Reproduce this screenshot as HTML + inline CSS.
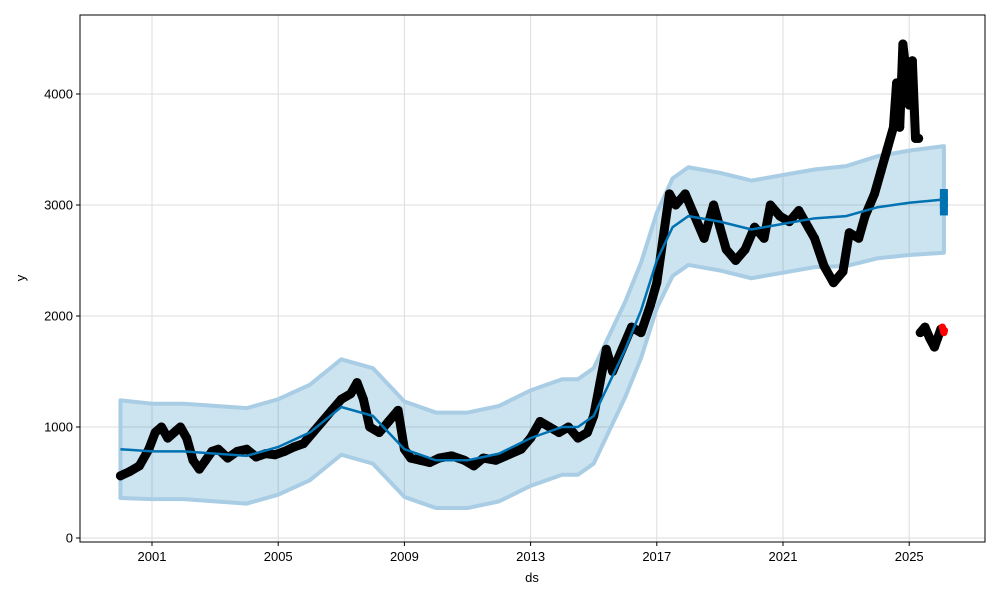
<!DOCTYPE html>
<html><head><meta charset="utf-8"><style>
body{margin:0;background:#fff;font-family:"Liberation Sans","DejaVu Sans",sans-serif;}
svg{display:block}
</style></head><body>
<svg id="chart" width="1000" height="600">
<rect x="0" y="0" width="1000" height="600" fill="#fff"/>
<g id="grid"></g>
<g id="band"></g>
<g id="obs"></g>
<g id="trend"></g>
<g id="axes"></g>
<rect x="80" y="15" width="905" height="527" fill="none" stroke="#000" stroke-width="1"/>
<text x="532" y="582" font-size="13" text-anchor="middle">ds</text>
<text x="25" y="278" font-size="13" text-anchor="middle" transform="rotate(-90 25 278)">y</text>
</svg>
<script>
const xTicks=[2001,2005,2009,2013,2017,2021,2025];
const yTicks=[0,1000,2000,3000,4000];
const obsYears=[2000.0,2000.3,2000.6,2000.9,2001.1,2001.3,2001.5,2001.7,2001.9,2002.1,2002.3,2002.5,2002.7,2002.9,2003.1,2003.4,2003.7,2004.0,2004.3,2004.6,2004.9,2005.2,2005.5,2005.8,2006.1,2006.4,2006.7,2007.0,2007.3,2007.5,2007.7,2007.9,2008.2,2008.5,2008.8,2009.0,2009.2,2009.5,2009.8,2010.1,2010.5,2010.9,2011.2,2011.5,2011.9,2012.3,2012.7,2013.0,2013.3,2013.6,2013.9,2014.2,2014.5,2014.8,2015.0,2015.2,2015.4,2015.6,2015.9,2016.2,2016.5,2016.8,2017.0,2017.2,2017.4,2017.6,2017.9,2018.2,2018.5,2018.8,2019.0,2019.2,2019.5,2019.8,2020.1,2020.4,2020.6,2020.9,2021.2,2021.5,2021.8,2022.0,2022.3,2022.6,2022.9,2023.1,2023.4,2023.6,2023.9,2024.1,2024.3,2024.5,2024.6,2024.7,2024.8,2024.9,2025.0,2025.1,2025.2,2025.3];
const obsValues=[560,600,650,800,950,1000,900,950,1000,900,700,620,700,780,800,720,780,800,730,760,750,780,820,850,950,1050,1150,1250,1300,1400,1250,1000,950,1050,1150,800,720,700,680,720,740,700,650,720,700,750,800,900,1050,1000,950,1000,900,950,1100,1400,1700,1500,1700,1900,1850,2100,2300,2700,3100,3000,3100,2900,2700,3000,2800,2600,2500,2600,2800,2700,3000,2900,2850,2950,2800,2700,2450,2300,2400,2750,2700,2900,3100,3300,3500,3700,4100,3700,4450,4200,3900,4300,3600,3600];
const lowYears=[2025.35,2025.5,2025.65,2025.8,2025.9,2026.0];
const lowValues=[1850,1900,1800,1720,1800,1880];
const testYears=[2026.05,2026.1,2026.12];
const testValues=[1900,1850,1870];
const trendYears=[2000,2001,2002,2003,2004,2005,2006,2007,2008,2009,2010,2011,2012,2013,2014,2014.5,2015,2015.5,2016,2016.5,2017,2017.5,2018,2019,2020,2021,2022,2023,2024,2025,2026.1];
const trendValues=[800,780,780,760,740,820,950,1180,1100,800,700,700,760,900,1000,1000,1100,1400,1700,2050,2500,2800,2900,2850,2780,2830,2880,2900,2980,3020,3050];
const bandHalf=[440,430,430,430,430,430,430,430,430,430,430,430,430,430,430,430,430,430,430,430,430,440,440,440,440,440,440,450,460,470,480];
const futureYears=[2026.1,2026.1,2026.1];
const futureValues=[2960,3030,3090];

const NS="http://www.w3.org/2000/svg";
const X=y=>152+(y-2001)*31.55;
const Y=v=>538-0.111*v;
function mk(tag,parent,attrs){const e=document.createElementNS(NS,tag);for(const k in attrs)e.setAttribute(k,attrs[k]);document.getElementById(parent).appendChild(e);return e;}

xTicks.forEach(t=>{
  const gl=mk('line','grid',{x1:X(t),x2:X(t),y1:15,y2:542,stroke:'#ddd','stroke-width':1});
  
  
  const tk=mk('line','axes',{x1:X(t),x2:X(t),y1:542,y2:546,stroke:'#000'});
  
  
  const tx=mk('text','axes',{x:X(t),y:561,'font-size':13,'text-anchor':'middle'});
  tx.textContent=t;
  
  
});
yTicks.forEach(t=>{
  const gl=mk('line','grid',{x1:80,x2:985,y1:Y(t),y2:Y(t),stroke:'#ddd','stroke-width':1});
  
  
  const tk=mk('line','axes',{x1:76,x2:80,y1:Y(t),y2:Y(t),stroke:'#000'});
  
  
  const tx=mk('text','axes',{x:73,y:Y(t)+4.5,'font-size':13,'text-anchor':'end'});
  tx.textContent=t;
  
  
});

let up=trendYears.map((t,i)=>X(t)+','+Y(trendValues[i]+bandHalf[i]));
let lo=trendYears.map((t,i)=>X(t)+','+Y(trendValues[i]-bandHalf[i])).reverse();
const band=mk('polygon','band',{points:up.concat(lo).join(' '),fill:'#0072b2','fill-opacity':0.2,stroke:'#a9cde4','stroke-width':4,'stroke-linejoin':'round'});



function series(years,vals,color,name,w){
  const p=mk('polyline','obs',{points:years.map((t,i)=>X(t)+','+Y(vals[i])).join(' '),fill:'none',stroke:color,'stroke-width':w,'stroke-linejoin':'round','stroke-linecap':'round'});
  
  
  years.forEach((t,i)=>{
    const c=mk('circle','obs',{cx:X(t),cy:Y(vals[i]),r:w/2,fill:color});
    
    
  });
}
series(obsYears,obsValues,'#000','observed-series',9);
series(lowYears,lowValues,'#000','recent-observed-series',9);
series(testYears,testValues,'#f00','test-series',7);

const tl=mk('polyline','trend',{points:trendYears.map((t,i)=>X(t)+','+Y(trendValues[i])).join(' '),fill:'none',stroke:'#0072b2','stroke-width':2.5});


futureYears.forEach((t,i)=>{
  const c=mk('rect','trend',{x:X(t)-4,y:Y(futureValues[i])-6,width:8,height:12,fill:'#0072b2'});
  
  
});
</script>
</body></html>
